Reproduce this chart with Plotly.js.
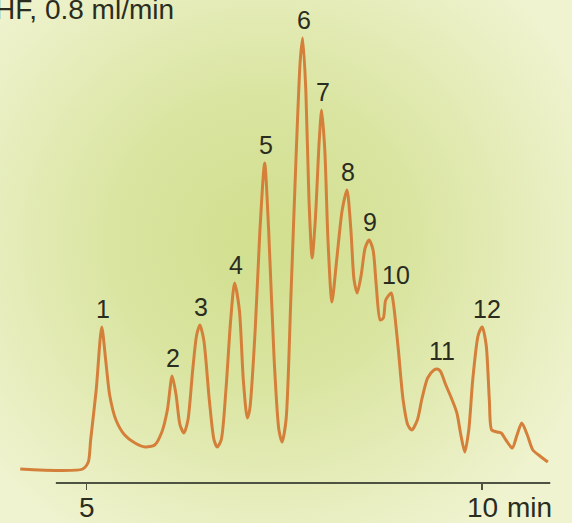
<!DOCTYPE html>
<html>
<head>
<meta charset="utf-8">
<script src="https://cdn.plot.ly/plotly-3.0.1.min.js"></script>
<style>
  html, body { margin: 0; padding: 0; }
  body {
    width: 572px; height: 523px; overflow: hidden;
    background: radial-gradient(ellipse 62% 66% at 46% 46%, #d1df8e 0%, #d9e49f 40%, #e5ecb9 72%, #eff3cf 100%);
  }
  #chart { width: 572px; height: 523px; }
</style>
</head>
<body>
<div id="chart"></div>
<script>
// Retention time (min) and detector signal (relative units)
const time = [4.16, 4.95, 5.02, 5.05, 5.12, 5.19, 5.24, 5.29, 5.37, 5.48, 5.61, 5.74, 5.86, 5.95, 6.02, 6.08,
  6.13, 6.18, 6.23, 6.28, 6.34, 6.39, 6.43, 6.48, 6.55, 6.61, 6.65, 6.70, 6.76, 6.82, 6.87, 6.93, 6.98,
  7.03, 7.06, 7.13, 7.19, 7.25, 7.30, 7.37, 7.43, 7.47, 7.52, 7.58, 7.65, 7.70, 7.73, 7.77, 7.81, 7.85,
  7.89, 7.94, 7.97, 8.01, 8.05, 8.10, 8.16, 8.23, 8.29, 8.34, 8.38, 8.42, 8.47, 8.52, 8.57, 8.62, 8.66,
  8.71, 8.75, 8.78, 8.85, 8.88, 8.94, 9.00, 9.06, 9.11, 9.18, 9.24, 9.31, 9.39, 9.43, 9.47, 9.54, 9.62,
  9.68, 9.73, 9.78, 9.83, 9.88, 9.95, 10.00, 10.05, 10.09, 10.12, 10.19, 10.24, 10.30, 10.38, 10.44,
  10.50, 10.57, 10.64, 10.73, 10.83];
const signal = [0, 0, 1.75, 7.25, 19.75, 35.5, 27.25, 18.5, 12.25, 8.5, 6.5, 5.5, 6, 9.25, 14.75, 23.25,
  18.5, 11, 9, 12.25, 24.75, 33.5, 36, 32.25, 17.25, 7.25, 5.5, 7.25, 19.75, 37.25, 46.5, 39.75, 22.25,
  12.75, 14.75, 34.75, 59.75, 76.5, 59.75, 27.25, 9.75, 6.75, 12.25, 42.25, 79.75, 102.25, 107.75, 94.75,
  67.25, 52.75, 62.25, 82.25, 89.75, 79.75, 57.25, 41.75, 52.25, 64.75, 69.75, 59.75, 47.25, 44, 48.5,
  55.25, 57.25, 54.75, 46, 37.25, 37.75, 42.25, 44, 41, 29.75, 17.25, 11, 9.75, 12.25, 17.75, 22.75,
  24.75, 25, 24.5, 21, 17.25, 14, 8.5, 4.25, 9.75, 22.25, 33.5, 35.5, 31, 17.25, 9.75, 9.25, 9, 7.25,
  5.25, 8.5, 11.5, 8.5, 4.75, 3.25, 1.75];

// Peak numbers and apex positions
const peakLabels = ['1', '2', '3', '4', '5', '6', '7', '8', '9', '10', '11', '12'];
const peakTimes = [5.19, 6.08, 6.43, 6.87, 7.25, 7.73, 7.97, 8.29, 8.57, 8.85, 9.43, 10.00];
const peakHeights = [35.5, 23.25, 36, 46.5, 76.5, 107.75, 89.75, 69.75, 57.25, 44, 25, 35.5];

// Axis ticks
const tickValues = [5, 10];
const tickLabels = ['5', '10'];
const axisUnit = 'min';
const conditions = 'THF, 0.8 ml/min';

const textColor = '#2a2c20';
const font = 'Liberation Sans, Arial, Helvetica, sans-serif';

const annotations = peakLabels.map((lab, i) => ({
  x: peakTimes[i], y: peakHeights[i], xref: 'x', yref: 'y',
  text: lab, showarrow: false, xanchor: 'center', yanchor: 'bottom',
  xshift: lab.length > 1 ? 5 : 1, yshift: 2,
  font: { family: font, size: 25, color: textColor }
}));
tickValues.forEach((v, i) => annotations.push({
  x: v, xref: 'x', y: 0, yref: 'paper',
  text: tickLabels[i], showarrow: false, xanchor: 'center', yanchor: 'top',
  yshift: -7,
  font: { family: font, size: 28, color: textColor }
}));
annotations.push({
  x: tickValues[1], xref: 'x', y: 0, yref: 'paper',
  text: axisUnit, showarrow: false, xanchor: 'left', yanchor: 'top',
  xshift: 23, yshift: -7,
  font: { family: font, size: 28, color: textColor }
});
annotations.push({
  x: 176 / 572, xref: 'paper', y: 1, yref: 'paper',
  text: conditions, showarrow: false, xanchor: 'right', yanchor: 'top',
  yshift: 8,
  font: { family: font, size: 28, color: textColor }
});

const trace = {
  x: time, y: signal, type: 'scatter', mode: 'lines',
  line: { color: '#d4803a', width: 3, shape: 'spline', smoothing: 0.7 },
  hoverinfo: 'skip'
};

const layout = {
  width: 572, height: 523,
  margin: { l: 0, r: 0, t: 0, b: 40 },
  paper_bgcolor: 'rgba(0,0,0,0)', plot_bgcolor: 'rgba(0,0,0,0)',
  showlegend: false,
  xaxis: {
    range: [3.904, 11.135], showgrid: false, zeroline: false, showline: false,
    tickmode: 'array', tickvals: tickValues, ticktext: tickLabels, showticklabels: false,
    ticks: 'outside', ticklen: 6, tickwidth: 1.5, tickcolor: '#4d5242',
    fixedrange: true
  },
  yaxis: {
    range: [-3.5, 117.25], visible: false, fixedrange: true
  },
  shapes: [{
    type: 'line', xref: 'x', yref: 'paper',
    x0: 4.61, x1: 10.86, y0: 0, y1: 0,
    line: { color: '#4d5242', width: 2 }
  }],
  annotations: annotations
};

Plotly.newPlot('chart', [trace], layout, { displayModeBar: false, staticPlot: true });
</script>
</body>
</html>
